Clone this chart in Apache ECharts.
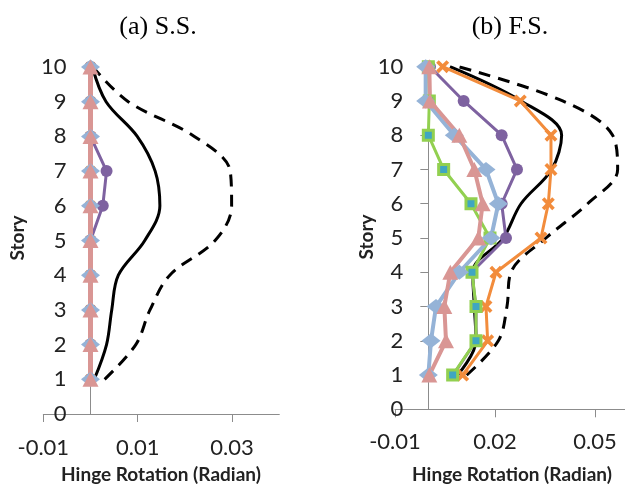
<!DOCTYPE html>
<html>
<head>
<meta charset="utf-8">
<script src="https://cdn.jsdelivr.net/npm/echarts@6/dist/echarts.min.js"></script>
<style>html,body{margin:0;padding:0;background:#fff;}#chart{width:625px;height:487px;}</style>
</head>
<body>
<div id="chart"></div>
<script>
// ---- data ----
const stories = [1, 2, 3, 4, 5, 6, 7, 8, 9, 10];
const yTickLabels = ['0','1','2','3','4','5','6','7','8','9','10'];
const xTickLabelsA = ['-0.01', '0.01', '0.03'];
const xTickLabelsB = ['-0.01', '0.02', '0.05'];
const titleA = '(a) S.S.';
const titleB = '(b) F.S.';
const xTitle = 'Hinge Rotation (Radian)';
const yTitle = 'Story';

// Panel (a) S.S. (values by story 1..10)
const ssBlue   = [0, 0, 0, 0, 0, 0, 0, 0, 0, 0];
const ssPink   = [0, 0, 0, 0, 0, 0, 0, 0, 0, 0];
const ssPurple = [0, 0, 0, 0, 0, 0.0026, 0.0034, 0, 0, 0];
const ssOrange = [0, 0, 0, 0, 0, 0, 0, 0, 0, 0];
const ssSolid  = [0.0008, 0.0034, 0.0045, 0.0059, 0.0115, 0.0147, 0.0137, 0.0099, 0.0033, 0.0004];
const ssDashed = [0.003, 0.0096, 0.0126, 0.0168, 0.0264, 0.0299, 0.0296, 0.022, 0.008, 0.0005];

// Panel (b) F.S.
const fsBlue   = [0, 0.0008, 0.0023, 0.0093, 0.0188, 0.021, 0.0173, 0.0078, -0.0008, -0.0008];
const fsPink   = [0.0003, 0.0053, 0.0048, 0.0066, 0.015, 0.0163, 0.0138, 0.0093, 0.0005, 0.0003];
const fsPurple = [0.0075, 0.0143, 0.0143, 0.013, 0.0233, 0.022, 0.0266, 0.022, 0.0106, 0.0005];
const fsGreen  = [0.0073, 0.0143, 0.0143, 0.0131, 0.0185, 0.0128, 0.0046, 0, 0.0003, 0];
const fsOrange = [0.0103, 0.0178, 0.0173, 0.0203, 0.0338, 0.036, 0.0368, 0.0368, 0.0276, 0.0043];
const fsSolid  = [0.0088, 0.0143, 0.0138, 0.0133, 0.0225, 0.0278, 0.037, 0.04, 0.0278, 0.0065];
const fsDashed = [0.0115, 0.021, 0.0236, 0.0248, 0.0353, 0.0478, 0.0568, 0.0553, 0.0403, 0.009];

// ---- styles / layout ----
const AXIS = '#8c8c8c';
const TXT = '#222';
const FONT = 'Lato';
const C = {blue:'#95B3D7', pink:'#D99694', purple:'#7E62A0', green:'#92D050', teal:'#3FA6C2', orange:'#F28C3C'};
const XSYM = 'path://M0,2 L2,0 L5,3 L8,0 L10,2 L7,5 L10,8 L8,10 L5,7 L2,10 L0,8 L3,5 Z';
const G = [
  {left:43.3, top:67, width:236, height:347, xmin:-0.01, xmax:0.04},
  {left:395, top:66.7, width:233.3, height:342.6, xmin:-0.01, xmax:0.06}
];

function pts(vals) { return stories.map((s, i) => [vals[i], s]); }

function panelSeries(idx, d) {
  const base = {type:'line', xAxisIndex:idx, yAxisIndex:idx, silent:true, animation:false};
  const out = [
    Object.assign({}, base, {name:'dashed', data:pts(d.dashed), smooth:0.35, showSymbol:false, symbol:'none',
      lineStyle:{color:'#000', width:3, type:[12, 8]}}),
    Object.assign({}, base, {name:'solid', data:pts(d.solid), smooth:0.35, showSymbol:false, symbol:'none',
      lineStyle:{color:'#000', width:3}}),
    Object.assign({}, base, {name:'orange', data:pts(d.orange), symbol:XSYM, symbolSize:d.xSize,
      lineStyle:{color:C.orange, width:3}, itemStyle:{color:C.orange}}),
    Object.assign({}, base, {name:'purple', data:pts(d.purple), symbol:'circle', symbolSize:12,
      lineStyle:{color:C.purple, width:3}, itemStyle:{color:C.purple}})
  ];
  if (d.green) {
    out.push(Object.assign({}, base, {name:'green', data:pts(d.green), symbol:'rect', symbolSize:10,
      lineStyle:{color:C.green, width:3}, itemStyle:{color:C.teal, borderColor:C.green, borderWidth:3}}));
  }
  out.push(
    Object.assign({}, base, {name:'blue', data:pts(d.blue), symbol:'diamond', symbolSize:[19, 15],
      lineStyle:{color:C.blue, width:4}, itemStyle:{color:C.blue}}),
    Object.assign({}, base, {name:'pink', data:pts(d.pink), symbol:'triangle', symbolSize:[16, 15],
      lineStyle:{color:C.pink, width:d.pinkW}, itemStyle:{color:C.pink}})
  );
  return out;
}

function xAxisCfg(idx, labels, margin) {
  const vals = labels.map(Number);
  const lab = {}; labels.forEach(l => { lab[Number(l)] = l; });
  return {
    gridIndex:idx, type:'value', min:G[idx].xmin, max:G[idx].xmax,
    axisLine:{show:true, onZero:true, lineStyle:{color:AXIS, width:1}},
    axisTick:{show:true, length:8, customValues:vals, lineStyle:{color:AXIS, width:1}},
    axisLabel:{customValues:vals, formatter:v => (lab[v] !== undefined ? lab[v] : ''), margin:margin,
      fontSize:22, fontFamily:FONT, color:TXT, hideOverlap:false},
    splitLine:{show:false}
  };
}
function yAxisCfg(idx, margin) {
  const g = G[idx];
  // place the vertical axis (line, ticks, labels) where x = 0
  const zeroOffset = (0 - g.xmin) / (g.xmax - g.xmin) * g.width;
  return {
    gridIndex:idx, type:'value', min:0, max:10, interval:1, position:'left', offset:-zeroOffset,
    axisLine:{show:true, onZero:false, lineStyle:{color:AXIS, width:1}},
    axisTick:{show:true, length:8, lineStyle:{color:AXIS, width:1}},
    axisLabel:{formatter:v => yTickLabels[v], margin:margin, fontSize:22, fontFamily:FONT, color:TXT, hideOverlap:false},
    splitLine:{show:false}
  };
}

const chart = echarts.init(document.getElementById('chart'), null, {renderer:'canvas'});
const option = {
  backgroundColor:'#fff',
  animation:false,
  grid: G.map(g => ({left:g.left, top:g.top, width:g.width, height:g.height, containLabel:false, outerBoundsMode:'none'})),
  xAxis:[xAxisCfg(0, xTickLabelsA, 23), xAxisCfg(1, xTickLabelsB, 22)],
  yAxis:[yAxisCfg(0, 24), yAxisCfg(1, 25)],
  series: panelSeries(0, {blue:ssBlue, pink:ssPink, purple:ssPurple, orange:ssOrange, solid:ssSolid, dashed:ssDashed, xSize:11, pinkW:5})
    .concat(panelSeries(1, {blue:fsBlue, pink:fsPink, purple:fsPurple, green:fsGreen, orange:fsOrange, solid:fsSolid, dashed:fsDashed, xSize:13, pinkW:4})),
  graphic:[
    {type:'text', x:158, y:27, style:{text:titleA, font:'26px "Liberation Serif"', fill:'#000', textAlign:'center', textVerticalAlign:'middle'}},
    {type:'text', x:510, y:27, style:{text:titleB, font:'26px "Liberation Serif"', fill:'#000', textAlign:'center', textVerticalAlign:'middle'}},
    {type:'text', x:161, y:475, style:{text:xTitle, font:'bold 19px Lato', fill:TXT, textAlign:'center', textVerticalAlign:'middle'}},
    {type:'text', x:512, y:475, style:{text:xTitle, font:'bold 19px Lato', fill:TXT, textAlign:'center', textVerticalAlign:'middle'}},
    {type:'text', x:18, y:238, rotation:Math.PI/2, style:{text:yTitle, font:'bold 19px Lato', fill:TXT, textAlign:'center', textVerticalAlign:'middle'}},
    {type:'text', x:367, y:237, rotation:Math.PI/2, style:{text:yTitle, font:'bold 19px Lato', fill:TXT, textAlign:'center', textVerticalAlign:'middle'}}
  ]
};
chart.setOption(option);
</script>
</body>
</html>
